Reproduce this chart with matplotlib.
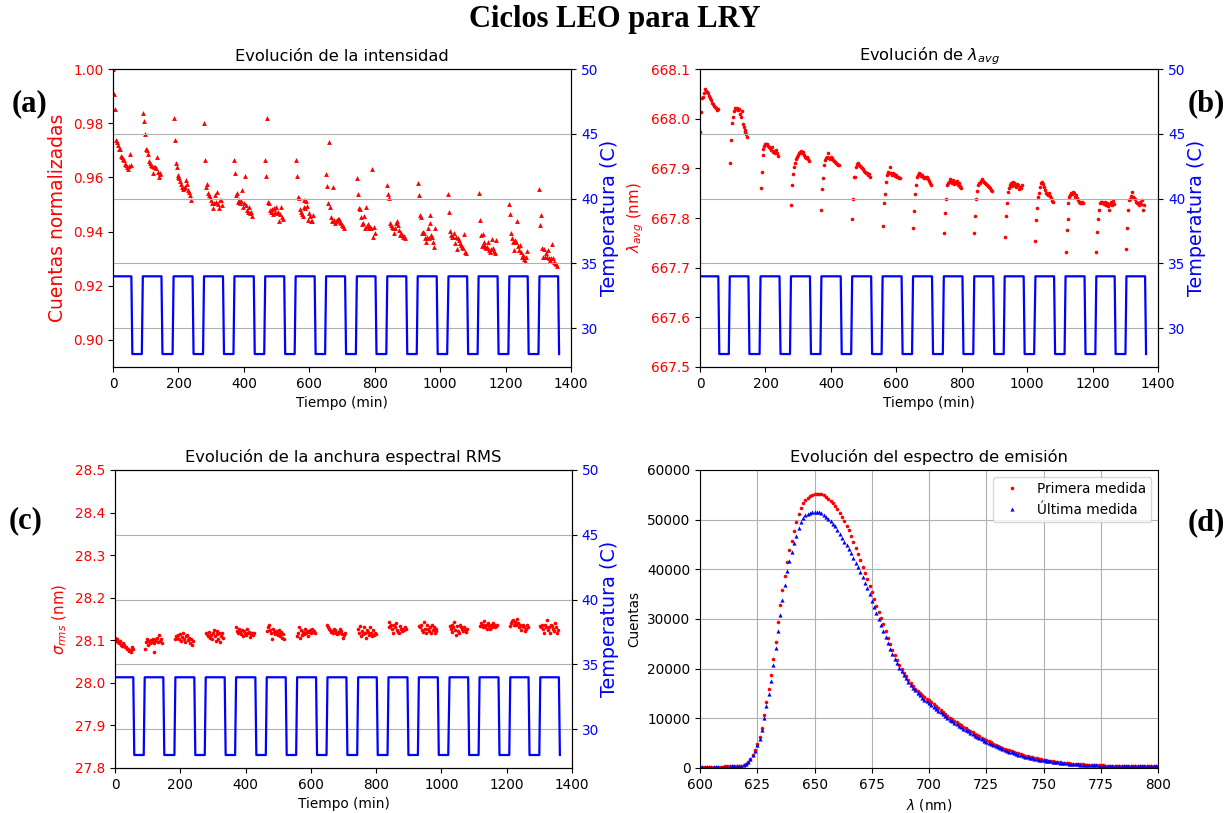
import matplotlib
matplotlib.use("Agg")
import matplotlib.pyplot as plt

# ---------------- data ----------------
# temperature profile (breakpoints)
temp_time = [0, 56, 59, 88, 91, 148, 151, 182, 185, 243, 246, 275, 278, 336, 339, 368,
             371, 430, 433, 462, 465, 523, 526, 555, 558, 616, 619, 648, 651, 709, 712, 742,
             745, 802, 805, 835, 838, 896, 899, 928, 931, 989, 992, 1021, 1025, 1082, 1085,
             1114, 1117, 1175, 1178, 1208, 1211, 1267, 1270, 1300, 1303, 1360, 1363]
temp_vals = [34, 34, 28, 28, 34, 34, 28, 28, 34, 34, 28, 28, 34, 34, 28, 28,
             34, 34, 28, 28, 34, 34, 28, 28, 34, 34, 28, 28, 34, 34, 28, 28,
             34, 34, 28, 28, 34, 34, 28, 28, 34, 34, 28, 28, 34, 34, 28,
             28, 34, 34, 28, 28, 34, 34, 28, 28, 34, 34, 28]

# measurement times (min)
t_meas = [
    0, 3, 6, 9, 12, 15, 18, 21, 24, 27, 30, 33, 36, 39, 42, 45, 48, 51, 54,
    91, 94, 97, 100, 103, 106, 109, 112, 115, 118, 121, 124, 127, 130, 133, 136, 139, 142, 145,
    185, 188, 191, 194, 197, 200, 203, 206, 209, 212, 215, 218, 221, 224, 227, 230, 233, 236, 239,
    278, 281, 284, 287, 290, 293, 296, 299, 302, 305, 308, 311, 314, 317, 320, 323, 326, 329, 332,
    371, 374, 377, 380, 383, 386, 389, 392, 395, 398, 401, 404, 407, 410, 413, 416, 419, 422, 425,
    465, 468, 471, 474, 477, 480, 483, 486, 489, 492, 495, 498, 501, 504, 507, 510, 513, 516, 519,
    558, 561, 564, 567, 570, 573, 576, 579, 582, 585, 588, 591, 594, 597, 600, 603, 606, 609, 612,
    651, 654, 657, 660, 663, 666, 669, 672, 675, 678, 681, 684, 687, 690, 693, 696, 699, 702, 705,
    745, 748, 751, 754, 757, 760, 763, 766, 769, 772, 775, 778, 781, 784, 787, 790, 793, 796, 799,
    838, 841, 844, 847, 850, 853, 856, 859, 862, 865, 868, 871, 874, 877, 880, 883, 886, 889, 892,
    931, 934, 937, 940, 943, 946, 949, 952, 955, 958, 961, 964, 967, 970, 973, 976, 979, 982, 985,
    1025, 1028, 1031, 1034, 1037, 1040, 1043, 1046, 1049, 1052, 1055, 1058, 1061, 1064, 1067, 1070, 1073, 1076, 1079,
    1117, 1120, 1123, 1126, 1129, 1132, 1135, 1138, 1141, 1144, 1147, 1150, 1153, 1156, 1159, 1162, 1165, 1168, 1171,
    1211, 1214, 1217, 1220, 1223, 1226, 1229, 1232, 1235, 1238, 1241, 1244, 1247, 1250, 1253, 1256, 1259, 1262, 1265,
    1303, 1306, 1309, 1312, 1315, 1318, 1321, 1324, 1327, 1330, 1333, 1336, 1339, 1342, 1345, 1348, 1351, 1354, 1357,
]

# normalized intensity
intensity = [
    1.0000, 0.9906, 0.9851, 0.9737, 0.9729, 0.9718, 0.9706, 0.9703, 0.9678, 0.9674, 0.9669, 0.9664, 0.9649, 0.9644, 0.9639, 0.9632, 0.9642, 0.9685, 0.9647,
    0.9836, 0.9807, 0.9760, 0.9706, 0.9701, 0.9686, 0.9660, 0.9654, 0.9644, 0.9642, 0.9615, 0.9639, 0.9637, 0.9633, 0.9675, 0.9620, 0.9603, 0.9615, 0.9612,
    0.9821, 0.9737, 0.9654, 0.9637, 0.9603, 0.9607, 0.9596, 0.9588, 0.9575, 0.9566, 0.9556, 0.9559, 0.9566, 0.9590, 0.9575, 0.9553, 0.9545, 0.9535, 0.9516,
    0.9799, 0.9664, 0.9566, 0.9574, 0.9541, 0.9535, 0.9529, 0.9516, 0.9504, 0.9486, 0.9504, 0.9535, 0.9510, 0.9547, 0.9502, 0.9486, 0.9516, 0.9516, 0.9498,
    0.9664, 0.9615, 0.9535, 0.9541, 0.9510, 0.9516, 0.9504, 0.9513, 0.9553, 0.9492, 0.9504, 0.9605, 0.9497, 0.9480, 0.9473, 0.9492, 0.9470, 0.9473, 0.9457,
    0.9664, 0.9605, 0.9821, 0.9510, 0.9504, 0.9480, 0.9473, 0.9482, 0.9465, 0.9486, 0.9473, 0.9492, 0.9467, 0.9473, 0.9440, 0.9465, 0.9492, 0.9455, 0.9445,
    0.9664, 0.9605, 0.9529, 0.9523, 0.9482, 0.9473, 0.9465, 0.9457, 0.9492, 0.9516, 0.9486, 0.9514, 0.9494, 0.9443, 0.9467, 0.9457, 0.9440, 0.9439, 0.9461,
    0.9612, 0.9568, 0.9504, 0.9732, 0.9492, 0.9452, 0.9440, 0.9563, 0.9443, 0.9433, 0.9440, 0.9443, 0.9446, 0.9448, 0.9437, 0.9430, 0.9424, 0.9420, 0.9412,
    0.9596, 0.9539, 0.9486, 0.9483, 0.9455, 0.9428, 0.9433, 0.9459, 0.9412, 0.9492, 0.9420, 0.9428, 0.9412, 0.9418, 0.9412, 0.9630, 0.9381, 0.9418, 0.9393,
    0.9572, 0.9539, 0.9525, 0.9430, 0.9424, 0.9418, 0.9412, 0.9393, 0.9412, 0.9430, 0.9440, 0.9424, 0.9406, 0.9387, 0.9393, 0.9387, 0.9381, 0.9384, 0.9375,
    0.9578, 0.9535, 0.9461, 0.9452, 0.9396, 0.9400, 0.9393, 0.9375, 0.9363, 0.9379, 0.9412, 0.9375, 0.9461, 0.9433, 0.9387, 0.9381, 0.9363, 0.9344, 0.9412,
    0.9539, 0.9473, 0.9403, 0.9387, 0.9381, 0.9381, 0.9396, 0.9359, 0.9381, 0.9336, 0.9375, 0.9369, 0.9359, 0.9350, 0.9344, 0.9338, 0.9391, 0.9326, 0.9322,
    0.9543, 0.9443, 0.9387, 0.9347, 0.9391, 0.9363, 0.9350, 0.9344, 0.9338, 0.9342, 0.9363, 0.9332, 0.9326, 0.9334, 0.9372, 0.9338, 0.9329, 0.9320, 0.9369,
    0.9502, 0.9464, 0.9396, 0.9375, 0.9363, 0.9332, 0.9369, 0.9363, 0.9438, 0.9347, 0.9332, 0.9350, 0.9326, 0.9307, 0.9313, 0.9298, 0.9291, 0.9307, 0.9329,
    0.9556, 0.9424, 0.9461, 0.9338, 0.9307, 0.9336, 0.9305, 0.9320, 0.9307, 0.9332, 0.9301, 0.9295, 0.9301, 0.9353, 0.9301, 0.9289, 0.9283, 0.9280, 0.9273,
]

# average wavelength (nm)
lambda_avg = [
    667.974, 668.014, 668.041, 668.044, 668.051, 668.059, 668.056, 668.054, 668.051, 668.046, 668.041, 668.037, 668.032, 668.029, 668.025, 668.023, 668.021, 668.017, 668.019,
    667.910, 667.958, 667.992, 668.003, 668.016, 668.021, 668.019, 668.021, 668.017, 668.019, 668.009, 668.003, 668.016, 667.990, 667.984, 667.978, 667.974, 667.969, 667.964,
    667.860, 667.893, 667.927, 667.938, 667.945, 667.950, 667.950, 667.949, 667.945, 667.942, 667.940, 667.937, 667.942, 667.933, 667.935, 667.931, 667.937, 667.930, 667.925,
    667.827, 667.866, 667.888, 667.903, 667.911, 667.918, 667.923, 667.927, 667.930, 667.933, 667.935, 667.931, 667.933, 667.927, 667.923, 667.920, 667.923, 667.918, 667.915,
    667.817, 667.858, 667.880, 667.907, 667.917, 667.920, 667.922, 667.930, 667.920, 667.918, 667.922, 667.920, 667.917, 667.915, 667.913, 667.910, 667.909, 667.907, 667.906,
    667.799, 667.838, 667.883, 667.882, 667.903, 667.909, 667.910, 667.907, 667.905, 667.903, 667.900, 667.898, 667.895, 667.893, 667.891, 667.890, 667.887, 667.889, 667.883,
    667.784, 667.830, 667.848, 667.873, 667.887, 667.890, 667.893, 667.891, 667.903, 667.890, 667.887, 667.891, 667.889, 667.885, 667.887, 667.883, 667.882, 667.880, 667.880,
    667.780, 667.815, 667.848, 667.866, 667.882, 667.887, 667.890, 667.889, 667.885, 667.887, 667.883, 667.880, 667.882, 667.880, 667.883, 667.878, 667.875, 667.871, 667.866,
    667.770, 667.811, 667.838, 667.866, 667.871, 667.873, 667.878, 667.875, 667.871, 667.876, 667.868, 667.873, 667.870, 667.875, 667.866, 667.870, 667.864, 667.862, 667.860,
    667.769, 667.804, 667.838, 667.855, 667.866, 667.870, 667.871, 667.875, 667.878, 667.875, 667.873, 667.870, 667.868, 667.866, 667.864, 667.863, 667.860, 667.856, 667.854,
    667.761, 667.804, 667.831, 667.853, 667.860, 667.866, 667.870, 667.864, 667.873, 667.866, 667.871, 667.868, 667.863, 667.868, 667.866, 667.858, 667.863, 667.860, 667.866,
    667.754, 667.795, 667.821, 667.842, 667.851, 667.863, 667.870, 667.873, 667.868, 667.863, 667.856, 667.851, 667.848, 667.846, 667.850, 667.844, 667.840, 667.835, 667.833,
    667.732, 667.776, 667.799, 667.830, 667.843, 667.846, 667.851, 667.848, 667.853, 667.850, 667.843, 667.846, 667.840, 667.836, 667.833, 667.831, 667.830, 667.833, 667.831,
    667.731, 667.772, 667.797, 667.816, 667.831, 667.833, 667.833, 667.831, 667.828, 667.833, 667.826, 667.830, 667.824, 667.816, 667.828, 667.833, 667.826, 667.835, 667.828,
    667.738, 667.780, 667.816, 667.836, 667.838, 667.844, 667.853, 667.842, 667.840, 667.838, 667.833, 667.830, 667.831, 667.826, 667.833, 667.828, 667.836, 667.816, 667.826,
]

# RMS spectral width (nm)
sigma_rms = [
    28.106, 28.098, 28.102, 28.096, 28.093, 28.098, 28.090, 28.086, 28.094, 28.088, 28.083, 28.085, 28.079, 28.080, 28.075, 28.077, 28.072, 28.083, 28.079,
    28.080, 28.096, 28.102, 28.090, 28.098, 28.094, 28.101, 28.096, 28.104, 28.093, 28.072, 28.098, 28.102, 28.106, 28.096, 28.112, 28.098, 28.102, 28.094,
    28.104, 28.110, 28.106, 28.112, 28.102, 28.114, 28.098, 28.108, 28.116, 28.104, 28.096, 28.110, 28.112, 28.101, 28.106, 28.094, 28.102, 28.090, 28.098,
    28.118, 28.114, 28.110, 28.119, 28.106, 28.112, 28.102, 28.116, 28.124, 28.110, 28.098, 28.114, 28.122, 28.104, 28.118, 28.096, 28.110, 28.116, 28.106,
    28.132, 28.122, 28.116, 28.126, 28.119, 28.114, 28.124, 28.110, 28.122, 28.118, 28.112, 28.126, 28.116, 28.119, 28.108, 28.114, 28.118, 28.112, 28.116,
    28.122, 28.130, 28.137, 28.124, 28.118, 28.102, 28.126, 28.119, 28.114, 28.122, 28.118, 28.112, 28.124, 28.110, 28.116, 28.119, 28.106, 28.114, 28.102,
    28.110, 28.116, 28.130, 28.106, 28.124, 28.112, 28.119, 28.114, 28.126, 28.118, 28.122, 28.110, 28.119, 28.124, 28.116, 28.126, 28.119, 28.122, 28.118,
    28.135, 28.130, 28.126, 28.124, 28.119, 28.122, 28.118, 28.127, 28.124, 28.118, 28.114, 28.119, 28.116, 28.126, 28.122, 28.114, 28.106, 28.112, 28.116,
    28.126, 28.118, 28.133, 28.110, 28.122, 28.114, 28.130, 28.118, 28.106, 28.124, 28.119, 28.112, 28.132, 28.116, 28.110, 28.124, 28.112, 28.118, 28.114,
    28.143, 28.130, 28.133, 28.137, 28.126, 28.118, 28.135, 28.130, 28.140, 28.124, 28.119, 28.116, 28.133, 28.126, 28.122, 28.127, 28.124, 28.130, 28.126,
    28.133, 28.130, 28.137, 28.124, 28.119, 28.143, 28.127, 28.118, 28.135, 28.126, 28.122, 28.132, 28.116, 28.137, 28.124, 28.130, 28.118, 28.122, 28.126,
    28.133, 28.126, 28.119, 28.137, 28.130, 28.143, 28.124, 28.112, 28.133, 28.122, 28.118, 28.135, 28.130, 28.126, 28.122, 28.132, 28.124, 28.119, 28.127,
    28.133, 28.141, 28.137, 28.130, 28.135, 28.145, 28.132, 28.137, 28.127, 28.140, 28.133, 28.126, 28.137, 28.132, 28.141, 28.135, 28.130, 28.133, 28.137,
    28.133, 28.141, 28.145, 28.148, 28.137, 28.143, 28.135, 28.149, 28.140, 28.130, 28.137, 28.124, 28.133, 28.135, 28.130, 28.122, 28.127, 28.137, 28.132,
    28.133, 28.130, 28.137, 28.126, 28.118, 28.135, 28.132, 28.148, 28.124, 28.130, 28.116, 28.137, 28.133, 28.126, 28.122, 28.140, 28.130, 28.118, 28.124,
]

# emission spectrum: wavelengths 600..800 nm (1 nm step)
wavelength = list(range(600, 801))
counts_first = [
    260, 262, 265, 268, 270, 273, 276, 280, 284, 288, 293, 299, 306, 315, 327, 345, 372, 415, 490, 620,
    850, 1250, 1850, 2650, 3650, 4800, 6200, 8000, 10600, 13200, 15900, 18800, 21900, 25300, 29300, 32800, 35900, 38600, 41400, 43800,
    45800, 47700, 49600, 51200, 52400, 53300, 53900, 54400, 54750, 55000, 55150, 55250, 55250, 55150, 54950, 54650, 54250, 53800, 53350, 52800,
    52150, 51400, 50600, 49700, 48800, 47850, 46750, 45600, 44350, 43100, 41800, 40550, 39250, 38000, 36700, 35350, 34000, 32700, 31400, 30200,
    28950, 27600, 26250, 24950, 23800, 22650, 21700, 20800, 20000, 19200, 18450, 17750, 17150, 16550, 16000, 15500, 15100, 14650, 14250, 13950,
    13650, 13250, 12850, 12450, 12050, 11650, 11250, 10900, 10500, 10150, 9800, 9500, 9200, 8900, 8600, 8300, 8000, 7700, 7450, 7150,
    6900, 6600, 6350, 6100, 5850, 5600, 5350, 5150, 4900, 4700, 4500, 4300, 4100, 3900, 3700, 3550, 3400, 3250, 3100, 2950,
    2800, 2650, 2500, 2400, 2250, 2150, 2050, 1950, 1850, 1750, 1660, 1580, 1500, 1420, 1350, 1280, 1210, 1150, 1090, 1040,
    990, 940, 890, 850, 810, 775, 740, 710, 680, 650, 625, 600, 578, 556, 536, 518, 500, 484, 470, 456,
    444, 432, 421, 411, 402, 394, 386, 379, 372, 366, 360, 355, 350, 345, 341, 337, 333, 329, 326, 323,
    320,
]
counts_last = [
    240, 242, 244, 246, 248, 250, 253, 256, 259, 263, 267, 272, 278, 286, 297, 313, 338, 378, 445, 570,
    800, 1200, 1800, 2550, 3500, 4600, 5900, 7600, 10000, 12500, 14800, 17600, 20700, 24200, 27500, 30800, 33900, 36900, 39600, 41700,
    43500, 45300, 46800, 48300, 49500, 50300, 50850, 51150, 51300, 51450, 51550, 51600, 51550, 51300, 50950, 50600, 50200, 49700, 49200, 48650,
    47900, 47150, 46350, 45600, 44900, 44150, 43250, 42300, 41350, 40450, 39500, 38400, 37250, 36150, 34950, 33700, 32500, 31300, 30000, 28700,
    27500, 26300, 25100, 24000, 22900, 22000, 21100, 20200, 19500, 18800, 18100, 17400, 16800, 16200, 15650, 15150, 14650, 14150, 13750, 13400,
    13050, 12700, 12300, 11900, 11550, 11200, 10800, 10450, 10100, 9750, 9450, 9150, 8800, 8500, 8200, 7900, 7600, 7350, 7050, 6800,
    6500, 6250, 6000, 5750, 5500, 5250, 5000, 4800, 4600, 4400, 4200, 4000, 3800, 3600, 3450, 3300, 3150, 3000, 2850, 2700,
    2550, 2430, 2300, 2200, 2080, 1980, 1880, 1780, 1690, 1600, 1520, 1450, 1380, 1310, 1240, 1180, 1120, 1060, 1010, 960,
    910, 870, 830, 790, 750, 715, 680, 650, 620, 590, 565, 540, 518, 498, 480, 463, 447, 433, 420, 408,
    397, 387, 378, 370, 362, 355, 348, 342, 336, 331, 326, 321, 317, 313, 309, 306, 303, 300, 297, 294,
    292,
]

time_ticks = [0, 200, 400, 600, 800, 1000, 1200, 1400]
temp_ticks = [30, 35, 40, 45, 50]

# ---------------- figure ----------------
plt.rcParams['font.family'] = ['DejaVu Sans']
FS_TICK = 9.8
FS_LAB = 9.8
FS_TITLE = 11.7
FS_YLAB_INT = 13.5
FS_YLAB_TEMP = 13.8

fig = plt.figure(figsize=(12.3, 8.13), dpi=100)

W = 0.3725
H = 0.3665
pos = {
    'a': [0.0919, 0.5486, W, H],
    'b': [0.5691, 0.5486, W, H],
    'c': [0.0935, 0.0554, 0.3715, H],
    'd': [0.5691, 0.0554, W, H],
}


def time_panel(key, values, marker, ms, ylim, yticks, yfmt, ylabel, ylab_fs, title):
    ax = fig.add_axes(pos[key])
    ax.plot(t_meas, values, linestyle='none', marker=marker, ms=ms, color='red',
            markeredgewidth=0)
    ax.set_xlim(0, 1400)
    ax.set_ylim(*ylim)
    ax.set_xticks(time_ticks)
    ax.set_yticks(yticks)
    ax.set_yticklabels([yfmt.format(v) for v in yticks])
    ax.tick_params(axis='y', labelcolor='red', labelsize=FS_TICK)
    ax.tick_params(axis='x', labelsize=FS_TICK)
    ax.set_ylabel(ylabel, color='red', fontsize=ylab_fs)
    ax.set_xlabel('Tiempo (min)', fontsize=FS_LAB)
    ax.set_title(title, fontsize=FS_TITLE)
    ax2 = ax.twinx()
    ax2.plot(temp_time, temp_vals, color='blue', lw=1.6)
    ax2.set_ylim(27, 50)
    ax2.set_yticks(temp_ticks)
    ax2.tick_params(axis='y', labelcolor='blue', labelsize=FS_TICK)
    ax2.set_ylabel('Temperatura (C)', color='blue', fontsize=FS_YLAB_TEMP, labelpad=1)
    ax2.grid(True, axis='y', color='#b0b0b0', lw=0.8)
    return ax, ax2


time_panel('a', intensity, '^', 3.5, (0.89, 1.00),
           [0.90, 0.92, 0.94, 0.96, 0.98, 1.00], '{:.2f}',
           'Cuentas normalizadas', FS_YLAB_INT, 'Evolución de la intensidad')
time_panel('b', lambda_avg, 'o', 2.6, (667.5, 668.1),
           [667.5, 667.6, 667.7, 667.8, 667.9, 668.0, 668.1], '{:.1f}',
           r'$\lambda_{avg}$ (nm)', 10.8, r'Evolución de $\lambda_{avg}$')
time_panel('c', sigma_rms, 'o', 2.6, (27.8, 28.5),
           [27.8, 27.9, 28.0, 28.1, 28.2, 28.3, 28.4, 28.5], '{:.1f}',
           r'$\sigma_{rms}$ (nm)', 10.8, 'Evolución de la anchura espectral RMS')

# spectrum panel
axd = fig.add_axes(pos['d'])
axd.plot(wavelength, counts_first, linestyle='none', marker='o', ms=2.6, color='red',
         markeredgewidth=0, label='Primera medida')
axd.plot(wavelength, counts_last, linestyle='none', marker='^', ms=3.0, color='blue',
         markeredgewidth=0, label='Última medida')
axd.set_xlim(600, 800)
axd.set_ylim(0, 60000)
axd.set_xticks([600, 625, 650, 675, 700, 725, 750, 775, 800])
axd.set_yticks([0, 10000, 20000, 30000, 40000, 50000, 60000])
axd.tick_params(labelsize=FS_TICK)
axd.grid(True, color='#b0b0b0', lw=0.8)
axd.set_axisbelow(True)
axd.set_xlabel(r'$\lambda$ (nm)', fontsize=FS_LAB)
axd.set_ylabel('Cuentas', fontsize=FS_LAB)
axd.set_title('Evolución del espectro de emisión', fontsize=FS_TITLE)
axd.legend(loc='upper right', fontsize=FS_LAB)

# titles and panel letters
serif = ['Liberation Serif', 'DejaVu Serif']
fig.text(0.5, 0.976, 'Ciclos LEO para LRY', ha='center', va='center',
         fontsize=22, fontweight='bold', family=serif)
for lab, x, y in [('(a)', 0.024, 0.873), ('(b)', 0.981, 0.873),
                  ('(c)', 0.021, 0.360), ('(d)', 0.981, 0.357)]:
    fig.text(x, y, lab, ha='center', va='center', fontsize=22,
             fontweight='bold', family=serif)

fig.savefig('out.png', dpi=100)
